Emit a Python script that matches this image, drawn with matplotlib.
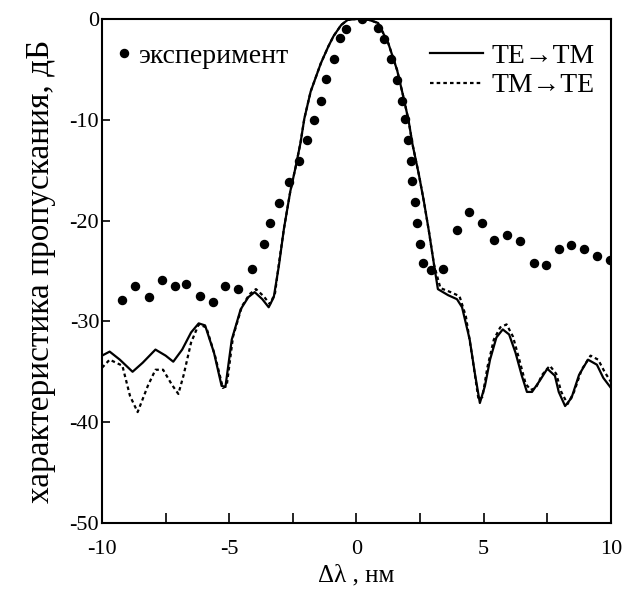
#!/usr/bin/env python3
"""Transmission characteristic of the TE<->TM converter vs. detuning."""

import matplotlib
matplotlib.use("Agg")
import matplotlib.pyplot as plt
from matplotlib.ticker import MultipleLocator

# experiment (dots)
exp_x = [-9.2, -8.7, -8.15, -7.65, -7.15, -6.7, -6.15, -5.65, -5.15, -4.65,
         -4.1, -3.65, -3.4, -3.05, -2.65, -2.25, -1.95, -1.65, -1.4, -1.2,
         -0.9, -0.65, -0.4, 0.2, 0.85, 1.1, 1.35, 1.58, 1.78, 1.9,
         2.02, 2.13, 2.2, 2.3, 2.37, 2.48, 2.6, 2.93, 3.39, 3.95,
         4.43, 4.94, 5.42, 5.93, 6.44, 6.96, 7.43, 7.98, 8.42, 8.93,
         9.45, 9.96]
exp_y = [-27.9, -26.5, -27.6, -25.9, -26.5, -26.3, -27.5, -28.1, -26.5, -26.8,
         -24.8, -22.3, -20.2, -18.3, -16.2, -14.1, -12.0, -10.0, -8.1, -6.0,
         -4.0, -1.9, -1.0, 0.0, -0.9, -2.0, -4.0, -6.1, -8.1, -9.9,
         -12.0, -14.1, -16.1, -18.2, -20.2, -22.3, -24.2, -24.9, -24.8, -20.9,
         -19.2, -20.2, -21.9, -21.4, -22.0, -24.2, -24.4, -22.8, -22.4, -22.8,
         -23.5, -23.9]

# TE -> TM (solid)
te_x = [-10, -9.7, -9.3, -8.8, -8.4, -7.9, -7.5, -7.2, -6.85, -6.5,
        -6.2, -5.95, -5.6, -5.3, -5.15, -4.9, -4.55, -4.25, -4.0, -3.7,
        -3.45, -3.25, -3.05, -2.85, -2.6, -2.4, -2.2, -2.05, -1.8, -1.4,
        -1.1, -0.9, -0.6, -0.35, 0.0, 0.2, 0.5, 0.85, 1.25, 1.6,
        1.85, 2.05, 2.2, 2.45, 2.65, 2.85, 3.05, 3.2, 3.6, 3.95,
        4.15, 4.45, 4.65, 4.85, 5.05, 5.25, 5.5, 5.75, 6.0, 6.25,
        6.5, 6.7, 6.9, 7.2, 7.5, 7.8, 7.95, 8.2, 8.45, 8.75,
        9.1, 9.45, 9.7, 10]
te_y = [-33.4, -33.0, -33.8, -35.0, -34.1, -32.8, -33.4, -34.0, -32.8, -31.1,
        -30.2, -30.4, -33.1, -36.4, -36.5, -31.8, -28.8, -27.6, -27.1, -27.8,
        -28.6, -27.6, -24.5, -20.8, -17.1, -14.8, -12.3, -9.9, -7.2, -4.4,
        -2.7, -1.7, -0.6, -0.1, 0.0, 0.0, -0.1, -0.4, -2.4, -5.1,
        -7.8, -10.1, -12.4, -15.4, -18.1, -21.1, -24.4, -26.8, -27.4, -27.8,
        -28.6, -31.8, -35.1, -38.1, -36.4, -33.8, -31.6, -30.8, -31.3, -33.1,
        -35.4, -37.0, -37.0, -35.9, -34.7, -35.4, -37.0, -38.4, -37.6, -35.3,
        -33.8, -34.3, -35.6, -36.6]

# TM -> TE (dashed)
tm_x = [-10, -9.7, -9.2, -8.9, -8.6, -8.2, -7.9, -7.6, -7.25, -7.0,
        -6.8, -6.5, -6.2, -5.9, -5.55, -5.25, -5.1, -4.85, -4.5, -4.2,
        -3.95, -3.65, -3.4, -3.2, -3.05, -2.85, -2.6, -2.4, -2.2, -2.05,
        -1.8, -1.4, -1.1, -0.9, -0.6, -0.35, 0.0, 0.2, 0.5, 0.85,
        1.25, 1.6, 1.85, 2.05, 2.2, 2.45, 2.65, 2.85, 3.05, 3.3,
        3.7, 4.05, 4.3, 4.55, 4.8, 4.95, 5.15, 5.4, 5.65, 5.9,
        6.15, 6.4, 6.65, 6.85, 7.05, 7.3, 7.6, 7.85, 8.05, 8.3,
        8.55, 8.85, 9.2, 9.5, 9.75, 10]
tm_y = [-34.6, -33.8, -34.4, -37.4, -39.0, -36.4, -34.8, -34.8, -36.3, -37.2,
        -35.4, -32.1, -30.3, -30.6, -33.5, -36.6, -36.4, -31.5, -28.5, -27.3,
        -26.8, -27.5, -28.3, -27.2, -24.3, -20.8, -17.1, -14.8, -12.3, -9.9,
        -7.2, -4.4, -2.7, -1.7, -0.6, -0.1, 0.0, 0.0, -0.1, -0.4,
        -2.4, -5.1, -7.8, -10.1, -12.4, -15.4, -18.1, -21.1, -24.4, -26.7,
        -27.1, -27.5, -29.5, -33.5, -37.8, -37.5, -34.5, -31.8, -30.6, -30.3,
        -31.5, -33.8, -36.2, -36.8, -36.6, -35.3, -34.4, -35.2, -37.0, -38.2,
        -37.0, -34.8, -33.4, -33.8, -35.0, -36.0]

x_label = "Δλ , нм"
y_label = "характеристика пропускания, дБ"
exp_label = "эксперимент"
te_label = "TE→TM"
tm_label = "TM→TE"


def main() -> int:
    plt.rcParams["font.family"] = ["Liberation Serif", "DejaVu Serif"]
    plt.rcParams["axes.unicode_minus"] = False

    fig = plt.figure(figsize=(6.24, 5.92), dpi=100)
    ax = fig.add_axes([0.1635, 0.1166, 0.8155, 0.8514])

    dots, = ax.plot(exp_x, exp_y, "o", color="black", ms=5.8, ls="none",
                    label=exp_label)
    te_line, = ax.plot(te_x, te_y, color="black", lw=1.6, label=te_label)
    tm_line, = ax.plot(tm_x, tm_y, color="black", lw=1.6,
                       ls=(0, (1.6, 1.4)), label=tm_label)

    ax.set_xlim(-10, 10)
    ax.set_ylim(-50, 0)
    ax.xaxis.set_major_locator(MultipleLocator(5))
    ax.xaxis.set_minor_locator(MultipleLocator(2.5))
    ax.yaxis.set_major_locator(MultipleLocator(10))
    ax.tick_params(axis="x", which="both", direction="in", length=7,
                   width=1.2, labelsize=16, pad=12)
    ax.tick_params(axis="y", direction="in", length=6, width=1.2,
                   labelsize=16, pad=2)
    for s in ax.spines.values():
        s.set_linewidth(1.5)

    ax.set_xlabel(x_label, fontsize=18, labelpad=4)
    ax.set_ylabel(y_label, fontsize=24, labelpad=10)

    leg1 = ax.legend(handles=[dots], loc="upper left", frameon=False,
                     fontsize=20, handlelength=0.4, handletextpad=0.3,
                     borderaxespad=0.2, bbox_to_anchor=(0.0, 0.985))
    ax.add_artist(leg1)
    ax.legend(handles=[te_line, tm_line], loc="upper right", frameon=False,
              fontsize=20, handlelength=1.9, handletextpad=0.3,
              labelspacing=0.15, borderaxespad=0.2,
              bbox_to_anchor=(1.0, 0.985))

    fig.savefig("out.png", dpi=100)
    plt.close(fig)
    return 0


if __name__ == "__main__":
    raise SystemExit(main())
